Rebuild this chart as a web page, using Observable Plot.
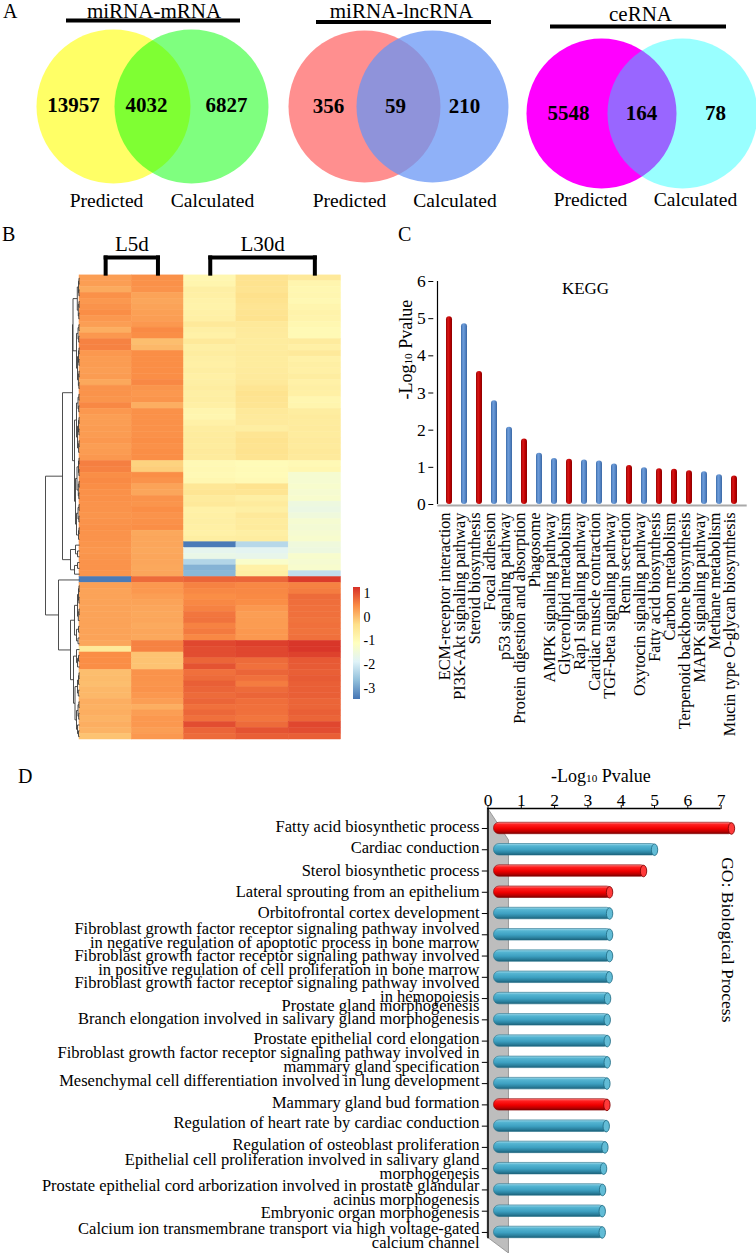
<!DOCTYPE html>
<html><head><meta charset="utf-8">
<script src="https://cdn.jsdelivr.net/npm/d3@7"></script>
<script src="https://cdn.jsdelivr.net/npm/@observablehq/plot@0.6"></script>
<style>
body{margin:0;background:#fff;}
#fig{position:relative;width:756px;height:1253px;overflow:hidden;font-family:"Liberation Serif","Times New Roman",serif;color:#000;}
.pane{position:absolute;}
.letter{position:absolute;font-size:20px;line-height:1;}
</style></head><body>
<svg width="0" height="0" style="position:absolute"><defs>
<linearGradient id="keggBlue" x1="0" y1="0" x2="1" y2="0">
<stop offset="0" stop-color="#3A6BAA"/><stop offset="0.35" stop-color="#6F9EDB"/><stop offset="0.65" stop-color="#5A8BCB"/><stop offset="1" stop-color="#3A66A2"/>
</linearGradient>
<linearGradient id="keggRed" x1="0" y1="0" x2="1" y2="0">
<stop offset="0" stop-color="#9A0000"/><stop offset="0.35" stop-color="#D81818"/><stop offset="0.65" stop-color="#C20000"/><stop offset="1" stop-color="#8A0000"/>
</linearGradient>
<linearGradient id="goBlue" x1="0" y1="0" x2="0" y2="1">
<stop offset="0" stop-color="#A2DAEB"/><stop offset="0.2" stop-color="#55B5D2"/><stop offset="0.55" stop-color="#3DA0C1"/><stop offset="0.82" stop-color="#2A7F9C"/><stop offset="1" stop-color="#1B5F78"/>
</linearGradient>
<linearGradient id="goRed" x1="0" y1="0" x2="0" y2="1">
<stop offset="0" stop-color="#FF8A8A"/><stop offset="0.2" stop-color="#FF2020"/><stop offset="0.55" stop-color="#F00000"/><stop offset="0.82" stop-color="#B80000"/><stop offset="1" stop-color="#780000"/>
</linearGradient>
<linearGradient id="heatRamp" x1="0" y1="1" x2="0" y2="0"></linearGradient>
</defs></svg>
<div id="fig">
<div class="letter" style="left:3px;top:1px">A</div>
<div class="letter" style="left:2px;top:224px">B</div>
<div class="letter" style="left:398px;top:224px">C</div>
<div class="letter" style="left:18px;top:766px">D</div>
</div>
<script>
// ---------------- DATA ----------------
// Panel A: Venn diagrams
const vennTitles = ["miRNA-mRNA", "miRNA-lncRNA", "ceRNA"];
const vennSetNames = ["Predicted", "Calculated"];
const vennPredictedOnly = [13957, 356, 5548];
const vennShared = [4032, 59, 164];
const vennCalculatedOnly = [6827, 210, 78];

// Panel B: heatmap
const samples = ["L5d-1", "L5d-2", "L30d-1", "L30d-2", "L30d-3"];
const sampleGroup = ["L5d", "L5d", "L30d", "L30d", "L30d"];
const heatRows = [
  [0.30, 0.42, -0.90, -0.40, -0.55],
  [0.30, 0.42, -0.85, -0.40, -0.85],
  [0.18, 0.40, -0.70, -0.42, -0.90],
  [0.42, 0.25, -0.72, -0.35, -0.88],
  [0.35, 0.22, -0.78, -0.40, -0.92],
  [0.40, 0.25, -0.80, -0.45, -0.85],
  [0.45, 0.28, -0.75, -0.42, -0.80],
  [0.35, 0.30, -0.72, -0.40, -0.82],
  [0.30, 0.35, -0.55, -0.55, -0.90],
  [0.15, 0.48, -0.70, -0.58, -0.95],
  [0.35, 0.45, -0.75, -0.60, -0.95],
  [0.55, 0.00, -0.55, -0.62, -0.60],
  [0.55, 0.05, -0.70, -0.62, -0.72],
  [0.35, 0.45, -0.65, -0.60, -0.55],
  [0.32, 0.45, -0.70, -0.62, -0.75],
  [0.32, 0.45, -0.72, -0.62, -0.70],
  [0.30, 0.45, -0.68, -0.60, -0.72],
  [0.32, 0.45, -0.72, -0.58, -0.65],
  [0.20, 0.50, -0.70, -0.55, -0.75],
  [0.40, 0.38, -0.65, -0.45, -0.70],
  [0.40, 0.35, -0.70, -0.40, -0.72],
  [0.38, 0.38, -0.68, -0.42, -0.88],
  [0.50, 0.15, -0.72, -0.45, -0.85],
  [0.35, 0.42, -0.85, -0.55, -0.65],
  [0.30, 0.42, -0.88, -0.58, -0.60],
  [0.30, 0.42, -0.75, -0.58, -0.62],
  [0.32, 0.42, -0.65, -0.68, -0.60],
  [0.32, 0.42, -0.62, -0.45, -0.62],
  [0.35, 0.45, -0.60, -0.40, -0.58],
  [0.30, 0.42, -0.62, -0.42, -0.60],
  [0.32, 0.45, -0.58, -0.40, -0.55],
  [0.35, 0.45, -0.60, -0.42, -0.58],
  [0.58, -0.20, -0.95, -1.00, -0.95],
  [0.55, -0.15, -0.92, -0.98, -0.90],
  [0.45, 0.45, -0.95, -1.00, -1.35],
  [0.48, 0.40, -0.90, -0.95, -1.35],
  [0.45, 0.25, -0.50, -0.40, -1.30],
  [0.42, 0.22, -0.45, -0.45, -1.35],
  [0.42, 0.40, -0.60, -0.70, -1.30],
  [0.40, 0.38, -0.55, -0.60, -1.55],
  [0.40, 0.45, -0.75, -0.70, -1.60],
  [0.38, 0.40, -0.72, -0.55, -1.50],
  [0.40, 0.42, -0.70, -0.62, -1.35],
  [0.42, 0.45, -0.72, -0.60, -1.40],
  [0.40, 0.20, -0.75, -0.70, -1.35],
  [0.40, 0.22, -0.68, -0.65, -1.30],
  [0.38, 0.22, -3.40, -2.30, -1.50],
  [0.36, 0.20, -1.75, -1.80, -1.55],
  [0.38, 0.22, -1.65, -1.70, -1.30],
  [0.40, 0.22, -2.35, -1.25, -1.35],
  [0.40, 0.20, -2.80, -0.75, -1.30],
  [0.38, 0.22, -2.75, -0.70, -2.20],
  [-3.40, 0.75, 0.80, 0.80, 1.15],
  [0.28, 0.35, 0.55, 0.50, 0.55],
  [0.25, 0.35, 0.50, 0.50, 0.60],
  [0.25, 0.30, 0.45, 0.48, 0.75],
  [0.25, 0.25, 0.50, 0.45, 0.72],
  [0.25, 0.22, 0.55, 0.35, 0.70],
  [0.25, 0.20, 0.65, 0.30, 0.70],
  [0.25, 0.22, 0.68, 0.32, 0.68],
  [0.25, 0.18, 0.55, 0.32, 0.70],
  [0.25, 0.22, 0.62, 0.35, 0.68],
  [0.25, 0.20, 0.50, 0.35, 0.70],
  [0.22, 0.55, 1.05, 1.12, 1.20],
  [-0.55, 0.55, 1.00, 1.05, 1.20],
  [0.45, -0.05, 1.00, 1.05, 1.10],
  [0.45, -0.05, 0.80, 0.75, 0.90],
  [0.45, -0.05, 0.95, 0.70, 0.88],
  [0.00, 0.40, 0.70, 0.80, 0.85],
  [0.02, 0.40, 0.75, 0.70, 0.88],
  [0.00, 0.38, 0.85, 0.60, 0.85],
  [0.05, 0.40, 0.80, 0.75, 0.85],
  [0.05, 0.35, 0.75, 0.80, 0.85],
  [0.15, 0.30, 0.80, 0.72, 0.80],
  [0.12, 0.15, 0.70, 0.70, 0.80],
  [0.15, 0.30, 0.78, 0.70, 0.85],
  [0.10, 0.35, 0.70, 0.65, 0.80],
  [0.15, 0.35, 1.00, 0.75, 1.05],
  [0.10, 0.30, 0.80, 0.95, 1.00],
  [-0.05, 0.35, 0.75, 0.85, 0.85]
];
// row dendrogram: [mergeHeight, child, child]; leaves are row indices
const dendroTree = [34,
  [17,
    [7,
      [6.5,
        [2.2, [1, [0.5, 0, 1], [0.6, 2, 3]], [1.2, [0.5, 4, 5], [0.7, 6, 7]]],
        [3, [1.5, [0.6, 8, 9], [0.8, 10, 11]], [2, [1, [0.5, 12, 13], [0.6, 14, 15]], [1.1, [0.5, 16, 17], [0.6, 18, 19]]]]],
      [5,
        [3, [1.5, [0.6, 20, 21], [0.8, 22, 23]], [2, [1, [0.5, 24, 25], [0.6, 26, 27]], [0.9, [0.5, 28, 29], 30]]],
        [4, [2.5, [1, [0.5, 31, 32], [0.6, 33, 34]], [1.2, [0.5, 35, 36], [0.7, 37, 38]]], [3, [1.5, [0.5, 39, 40], [0.6, 41, 42]], [1, [0.5, 43, 44], 45]]]]],
    [9, [4, 46, [2, 47, 48]], [5, [2, 49, 50], 51]]],
  [21, 52,
    [9,
      [5, [2, [1, [0.5, 53, 54], [0.6, 55, 56]], [1.2, [0.5, 57, 58], 59]], [3, [1, 60, 61], [1.5, 62, 63]]],
      [6, [3, 64, [2, [1, 65, 66], 67]], [4.5, [2, [1, [0.5, 68, 69], 70], [1.2, 71, 72]], [3, [1.5, [0.6, 73, 74], [0.8, 75, 76]], [2, 77, [1, 78, 79]]]]]]]];
const heatStops = [-3.46, -2.675, -1.89, -1.105, -0.32, 0.465, 1.25];
const heatColors = ["#4575B4", "#91BFDB", "#E0F3F8", "#FFFFBF", "#FEE08A", "#FA8C45", "#D73027"];
const legendTicks = [1, 0, -1, -2, -3];

// Panel C: KEGG
const keggTerms = ["ECM-receptor interaction", "PI3K-Akt signaling pathway", "Steroid biosynthesis", "Focal adhesion",
  "p53 signaling pathway", "Protein digestion and absorption", "Phagosome", "AMPK signaling pathway",
  "Glycerolipid metabolism", "Rap1 signaling pathway", "Cardiac muscle contraction", "TGF-beta signaling pathway",
  "Renin secretion", "Oxytocin signaling pathway", "Fatty acid biosynthesis", "Carbon metabolism",
  "Terpenoid backbone biosynthesis", "MAPK signaling pathway", "Methane metabolism", "Mucin type O-glycan biosynthesis"];
const keggValues = [5.05, 4.86, 3.58, 2.79, 2.08, 1.76, 1.38, 1.24, 1.22, 1.2, 1.17, 1.09, 1.05, 0.99, 0.96, 0.95, 0.91, 0.88, 0.8, 0.77];
const keggGroup = ["red", "blue", "red", "blue", "blue", "red", "blue", "blue", "red", "blue", "blue", "blue", "red", "blue", "red", "red", "red", "blue", "blue", "red"];
const keggYTicks = [0, 1, 2, 3, 4, 5, 6];

// Panel D: GO biological process
const goTerms = [
  "Fatty acid biosynthetic process",
  "Cardiac conduction",
  "Sterol biosynthetic process",
  "Lateral sprouting from an epithelium",
  "Orbitofrontal cortex development",
  "Fibroblast growth factor receptor signaling pathway involved\nin negative regulation of apoptotic process in bone marrow",
  "Fibroblast growth factor receptor signaling pathway involved\nin positive regulation of cell proliferation in bone marrow",
  "Fibroblast growth factor receptor signaling pathway involved\nin hemopoiesis",
  "Prostate gland morphogenesis",
  "Branch elongation involved in salivary gland morphogenesis",
  "Prostate epithelial cord elongation",
  "Fibroblast growth factor receptor signaling pathway involved in\nmammary gland specification",
  "Mesenchymal cell differentiation involved in lung development",
  "Mammary gland bud formation",
  "Regulation of heart rate by cardiac conduction",
  "Regulation of osteoblast proliferation",
  "Epithelial cell proliferation involved in salivary gland\nmorphogenesis",
  "Prostate epithelial cord arborization involved in prostate glandular\nacinus morphogenesis",
  "Embryonic organ morphogenesis",
  "Calcium ion transmembrane transport via high voltage-gated\ncalcium channel"
];
const goValues = [7.4, 5.09, 4.76, 3.74, 3.74, 3.74, 3.74, 3.73, 3.68, 3.67, 3.67, 3.67, 3.66, 3.66, 3.64, 3.6, 3.56, 3.53, 3.52, 3.52];
const goGroup = ["red", "blue", "red", "red", "blue", "blue", "blue", "blue", "blue", "blue", "blue", "blue", "blue", "red", "blue", "blue", "blue", "blue", "blue", "blue"];
const goXTicks = [0, 1, 2, 3, 4, 5, 6, 7];

// ---------------- STYLE / LAYOUT ----------------
const SERIF = '"Liberation Serif","Times New Roman",Times,serif';
const baseStyle = {fontFamily: SERIF, background: "transparent", overflow: "visible", color: "#000"};
const fig = document.getElementById("fig");
function mount(node, left, top, w) {
  const d = document.createElement("div");
  d.className = "pane";
  d.style.left = left + "px"; d.style.top = top + "px"; d.style.width = w + "px";
  d.appendChild(node); fig.appendChild(d);
}
function fixLog(svg) {
  d3.select(svg).selectAll("text").each(function () {
    if (this.textContent === "-Log10 Pvalue") {
      const t = d3.select(this); t.text("");
      t.append("tspan").text("-Log");
      t.append("tspan").attr("font-size", "62%").text("10");
      t.append("tspan").text(" Pvalue");
    }
  });
}
const noLabel = () => "";

// ---- Panel A ----
const vennCenters = [152, 398, 641];
const vennLayout = [
  {cy: 106, r: 77, circleX: [-39, 39], countX: [-79, -6, 74], countY: 105, labelX: [-46, 60], labelY: 200, titleX: 1.5, titleY: 10.5, barY: 20, barX: [-86, 88]},
  {cy: 106, r: 76, circleX: [-34, 34], countX: [-70, -3, 66], countY: 106, labelX: [-49, 56.5], labelY: 200, titleX: 3, titleY: 10.5, barY: 21.5, barX: [-82, 93]},
  {cy: 113, r: 75, circleX: [-40, 41], countX: [-73, 0, 74], countY: 113, labelX: [-51, 54], labelY: 199, titleX: -1, titleY: 14, barY: 26, barX: [-91, 85]}
];
const vennLeftFill = ["#FFFF00", "#FF0000", "#FF00FF"];
const vennLeftOpacity = [0.6, 0.44, 1];
const vennRightFill = ["#00FF00", "#6594F5", "#00FFFF"];
const vennRightOpacity = [0.5, 0.73, 0.4];

vennTitles.forEach((title, i) => {
  const L = vennLayout[i];
  const counts = [vennPredictedOnly[i], vennShared[i], vennCalculatedOnly[i]];
  const svg = Plot.plot({
    width: 260, height: 215, margin: 0,
    x: {domain: [-130, 130], range: [0, 260], axis: null},
    y: {domain: [0, 215], range: [0, 215], axis: null},
    style: baseStyle,
    marks: [
      Plot.dot([0], {x: L.circleX[0], y: L.cy, r: L.r, fill: vennLeftFill[i], fillOpacity: vennLeftOpacity[i]}),
      Plot.dot([0], {x: L.circleX[1], y: L.cy, r: L.r, fill: vennRightFill[i], fillOpacity: vennRightOpacity[i]}),
      Plot.text(counts, {x: (d, k) => L.countX[k], y: L.countY, text: d => String(d), fontSize: 21, fontWeight: "bold"}),
      Plot.text(vennSetNames, {x: (d, k) => L.labelX[k], y: L.labelY, text: d => d, fontSize: 19.5}),
      Plot.text([title], {x: L.titleX, y: L.titleY, text: d => d, fontSize: 21}),
      Plot.ruleY([L.barY], {x1: L.barX[0], x2: L.barX[1], stroke: "#000", strokeWidth: 4})
    ]
  });
  mount(svg, vennCenters[i] - 130, 0, 260);
});

// ---- Panel B: heatmap ----
const heatCells = heatRows.flatMap((row, r) => row.map((v, c) => ({r, c, v})));
const groups = Array.from(d3.group(samples.map((s, i) => ({s, i, g: sampleGroup[i]})), d => d.g),
  ([g, arr]) => ({g, first: arr[0].i, last: arr[arr.length - 1].i}));
const bracketTop = -3.1, bracketBottom = -0.3, headerY = -5.45;
const bracketSegs = groups.flatMap(G => [
  {x1: G.first + 0.5, x2: G.last + 0.5, y1: bracketTop, y2: bracketTop},
  {x1: G.first + 0.5, x2: G.first + 0.5, y1: bracketTop, y2: bracketBottom},
  {x1: G.last + 0.5, x2: G.last + 0.5, y1: bracketTop, y2: bracketBottom}
]);
const heatY = {domain: [-8.6, heatRows.length], reverse: true, axis: null};
const heatSvg = Plot.plot({
  width: 350, height: 514, marginLeft: 79, marginRight: 9.5, marginTop: 0, marginBottom: 0,
  x: {domain: [0, samples.length], axis: null},
  y: heatY,
  color: {type: "linear", domain: heatStops, range: heatColors, interpolate: "rgb"},
  style: baseStyle,
  marks: [
    Plot.rect(heatCells, {x1: d => d.c, x2: d => d.c + 1, y1: d => d.r, y2: d => d.r + 1, fill: "v", stroke: "v", strokeWidth: 0.5}),
    Plot.link(bracketSegs, {x1: "x1", x2: "x2", y1: "y1", y2: "y2", stroke: "#000", strokeWidth: 4, strokeLinecap: "square"}),
    Plot.text(groups, {x: G => (G.first + G.last + 1) / 2, y: headerY, text: "g", fontSize: 21})
  ]
});
mount(heatSvg, 0, 225, 350);

// dendrogram
const dendroSegs = [];
function layoutTree(node) {
  if (typeof node === "number") return {y: node + 0.5, h: 0};
  const [h, a, b] = node;
  const A = layoutTree(a), B = layoutTree(b);
  dendroSegs.push({x1: h, x2: h, y1: A.y, y2: B.y});
  dendroSegs.push({x1: A.h, x2: h, y1: A.y, y2: A.y});
  dendroSegs.push({x1: B.h, x2: h, y1: B.y, y2: B.y});
  return {y: (A.y + B.y) / 2, h};
}
layoutTree(dendroTree);
const dendroSvg = Plot.plot({
  width: 40, height: 514, marginLeft: 5, marginRight: 1, marginTop: 0, marginBottom: 0,
  x: {domain: [dendroTree[0], 0], axis: null},
  y: heatY,
  style: baseStyle,
  marks: [Plot.link(dendroSegs, {x1: "x1", x2: "x2", y1: "y1", y2: "y2", stroke: "#3a3a3a", strokeWidth: 0.9})]
});
mount(dendroSvg, 40, 225, 40);

// color key
const ramp = d3.select("#heatRamp");
heatStops.forEach((s, k) => ramp.append("stop")
  .attr("offset", (s - heatStops[0]) / (heatStops[heatStops.length - 1] - heatStops[0]))
  .attr("stop-color", heatColors[k]));
const keySvg = Plot.plot({
  width: 40, height: 130, marginLeft: 8, marginRight: 25, marginTop: 7, marginBottom: 11,
  x: {domain: [0, 1], axis: null},
  y: {domain: [heatStops[0], heatStops[heatStops.length - 1]], axis: null},
  style: baseStyle,
  marks: [
    Plot.rect([0], {x1: 0, x2: 1, y1: heatStops[0], y2: heatStops[heatStops.length - 1], fill: "url(#heatRamp)"}),
    Plot.text(legendTicks, {y: d => d, frameAnchor: "right", text: d => String(d), textAnchor: "start", dx: 3, fontSize: 14})
  ]
});
mount(keySvg, 345, 580, 40);

// ---- Panel C: KEGG ----
const kegg = keggTerms.map((term, i) => ({term, value: keggValues[i], group: keggGroup[i]}));
const keggSvg = Plot.plot({
  width: 376, height: 490, marginLeft: 57.3, marginRight: 9.3, marginTop: 21, marginBottom: 246,
  x: {domain: keggTerms, paddingInner: 0.58, paddingOuter: 0.29, align: 0.5, axis: null},
  y: {domain: [0, 6], axis: null},
  style: baseStyle,
  marks: [
    Plot.ruleY([0], {stroke: "#a9a9a9", strokeWidth: 2, dy: 1}),
    Plot.barY(kegg.filter(d => d.group === "blue"), {x: "term", y: "value", fill: "url(#keggBlue)", rx: 3}),
    Plot.barY(kegg.filter(d => d.group === "red"), {x: "term", y: "value", fill: "url(#keggRed)", rx: 3}),
    Plot.ruleX([keggTerms[0]], {dx: -12, y1: 0, y2: 6, stroke: "#000", strokeWidth: 1.2}),
    Plot.axisY({ticks: keggYTicks, tickSize: 5, dx: -4, tickFormat: noLabel, label: null}),
    Plot.text(keggYTicks, {y: d => d, frameAnchor: "left", text: d => String(d), textAnchor: "end", dx: -12, fontSize: 17.5}),
    Plot.text(kegg, {x: "term", frameAnchor: "bottom", text: "term", rotate: -90, textAnchor: "end", dy: 8, fontSize: 16.3}),
    Plot.text(["KEGG"], {frameAnchor: "top", text: d => d, dx: -7, fontSize: 17}),
    Plot.text(["-Log10 Pvalue"], {frameAnchor: "left", text: d => d, rotate: -90, dx: -32, dy: 6.5, fontSize: 18})
  ]
});
fixLog(keggSvg);
mount(keggSvg, 380, 260, 376);

// ---- Panel D: GO ----
const go = goTerms.map((term, i) => ({term, value: goValues[i], group: goGroup[i], i}));
const wall = [{x: 0, y1: -0.94, y2: 19.25}, {x: 0.63, y1: 0.56, y2: 19.99}];
const rowPx = 21.26;
const goLabelNudge = [-1, -1, 0, 0, 0, 2, 7, 13, 8, 0, -2, -1.5, -2, -1, -3, -2, -1.5, 4, 2, 4];
const capSymbol = {draw(ctx) {
  const rx = 3.2, ry = 5.8, k = 0.5523;
  ctx.moveTo(rx, 0);
  ctx.bezierCurveTo(rx, ry * k, rx * k, ry, 0, ry);
  ctx.bezierCurveTo(-rx * k, ry, -rx, ry * k, -rx, 0);
  ctx.bezierCurveTo(-rx, -ry * k, -rx * k, -ry, 0, -ry);
  ctx.bezierCurveTo(rx * k, -ry, rx, -ry * k, rx, 0);
  ctx.closePath();
}};
const half = 0.27;
const goSvg = Plot.plot({
  width: 756, height: 498, marginLeft: 487.5, marginRight: 18.7, marginTop: 53, marginBottom: 0,
  x: {domain: [0, 7.5], axis: null},
  y: {domain: [-0.94, 19.99], reverse: true, axis: null},
  style: baseStyle,
  marks: [
    Plot.areaY(wall, {x: "x", y1: "y1", y2: "y2", fill: "#bdbdbd", stroke: "#8a8a8a", strokeWidth: 0.8}),
    Plot.ruleX([0], {y1: -0.94, y2: 19.3, stroke: "#000", strokeWidth: 1.5}),
    Plot.ruleY([-0.94], {x1: 0, x2: 7, stroke: "#000", strokeWidth: 1.5}),
    Plot.ruleY(go, {y: "i", x1: -0.17, x2: 0, stroke: "#000"}),
    Plot.axisX({anchor: "top", ticks: goXTicks, tickSize: 4, tickFormat: noLabel, label: null}),
    Plot.text(goXTicks, {x: d => d, frameAnchor: "top", text: d => String(d), dy: -15, fontSize: 17.5}),
    Plot.rect(go.filter(d => d.group === "blue"), {x1: 0, x2: "value", y1: d => d.i - half, y2: d => d.i + half, insetLeft: 6, rx: 5.5, fill: "url(#goBlue)", stroke: "#23708a", strokeWidth: 0.6}),
    Plot.rect(go.filter(d => d.group === "red"), {x1: 0, x2: "value", y1: d => d.i - half, y2: d => d.i + half, insetLeft: 6, rx: 5.5, fill: "url(#goRed)", stroke: "#8a0000", strokeWidth: 0.6}),
    Plot.dot(go.filter(d => d.group === "blue"), {x: "value", y: "i", symbol: capSymbol, dx: -3, fill: "#62BCD6", stroke: "#1f6a82", strokeWidth: 0.8}),
    Plot.dot(go.filter(d => d.group === "red"), {x: "value", y: "i", symbol: capSymbol, dx: -3, fill: "#FF3A3A", stroke: "#7a0000", strokeWidth: 0.8}),
    Plot.text(go, {frameAnchor: "left", y: d => d.i + goLabelNudge[d.i] / rowPx, text: "term", textAnchor: "end", dx: -8.5, fontSize: 16.5, lineHeight: 0.85, lineAnchor: "middle"}),
    Plot.text(["-Log10 Pvalue"], {frameAnchor: "top", text: d => d, dx: -12, dy: -39, fontSize: 18}),
    Plot.text(["GO: Biological Process"], {frameAnchor: "right", text: d => d, rotate: 90, dx: -10, dy: -8.5, fontSize: 17.5})
  ]
});
fixLog(goSvg);
mount(goSvg, 0, 755, 756);
</script>
</body></html>
